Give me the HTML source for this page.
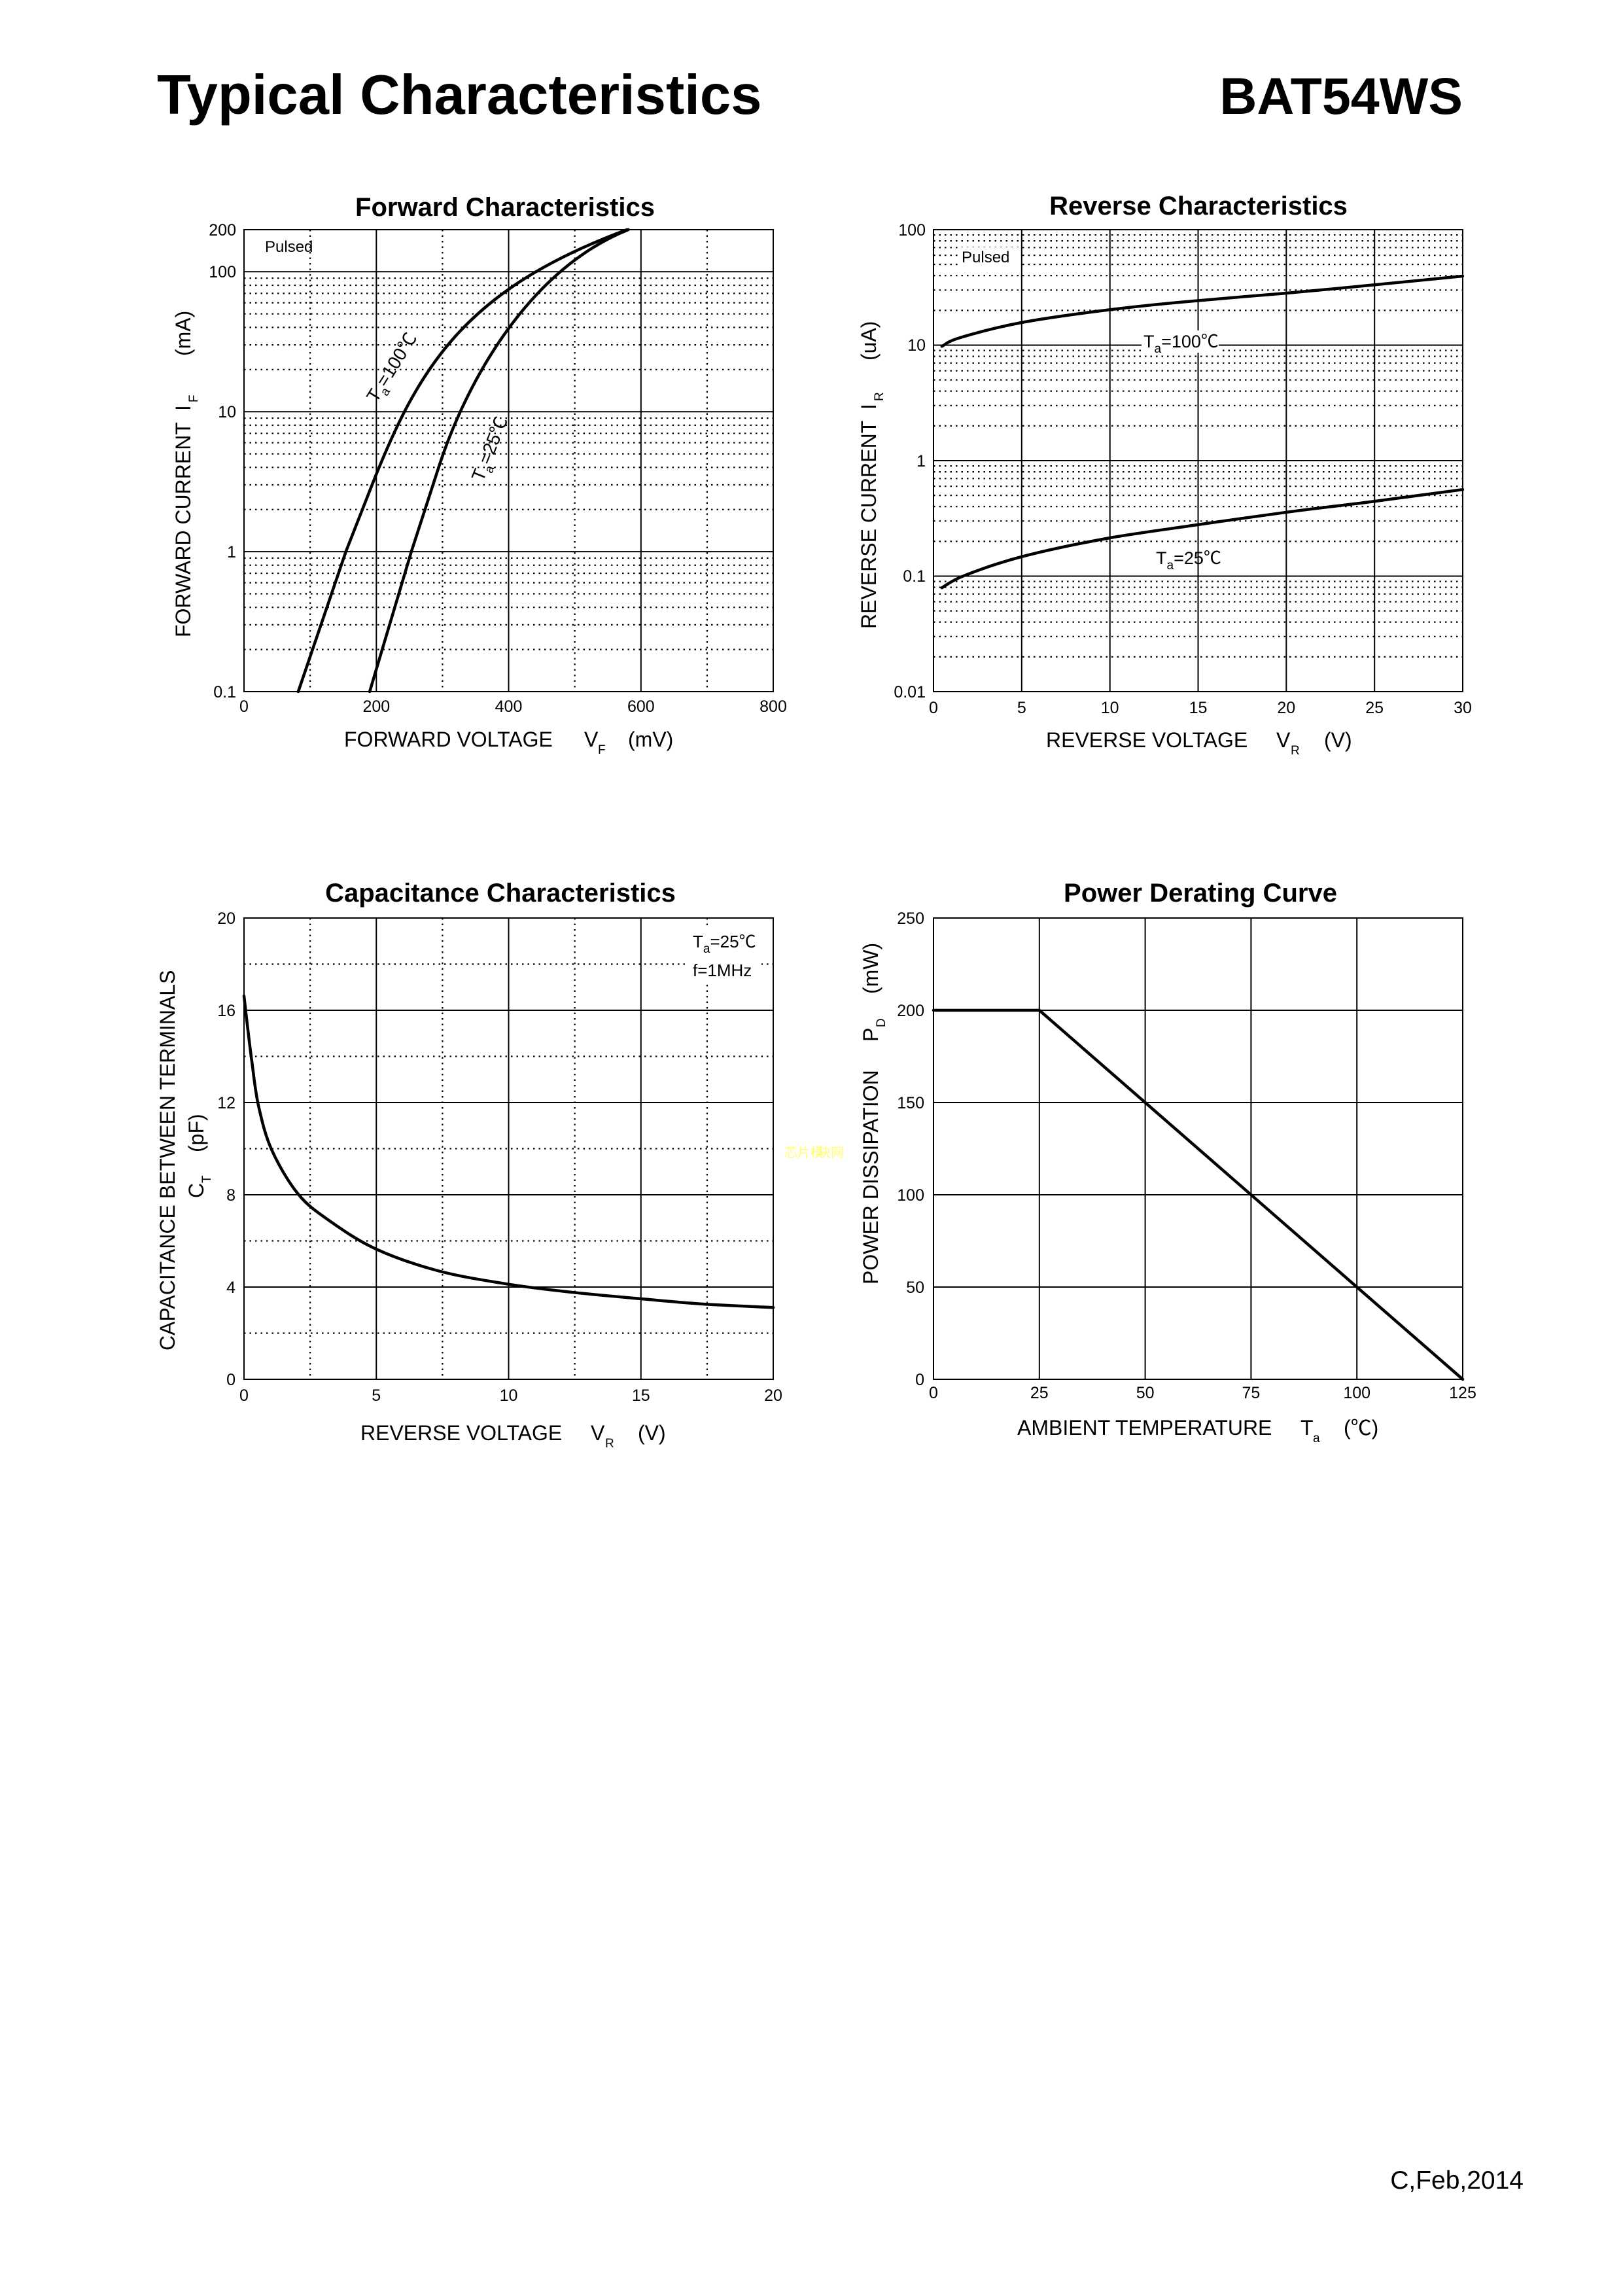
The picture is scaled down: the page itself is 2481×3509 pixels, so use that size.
<!DOCTYPE html>
<html><head><meta charset="utf-8"><style>
html,body{margin:0;padding:0;background:#fff;}
svg{display:block;}
text{font-family:"Liberation Sans","Noto Sans CJK SC",sans-serif;fill:#000;}
.t{font-size:25px;}
.ax{font-size:32px;}
.sb{font-size:19px;}
.ti{font-size:40px;font-weight:bold;}
.g{stroke:#000;stroke-width:2;fill:none;}
.d{stroke:#000;stroke-width:2.2;fill:none;stroke-dasharray:2.5 6;}
.c{stroke:#000;stroke-width:4.5;fill:none;stroke-linejoin:round;stroke-linecap:round;}
</style></head><body>
<svg width="2481" height="3509" viewBox="0 0 2481 3509" xmlns="http://www.w3.org/2000/svg">
<rect width="2481" height="3509" fill="#fff"/>
<text x="240" y="174" style="font-size:85px;font-weight:bold">Typical Characteristics</text>
<text x="2236" y="174" text-anchor="end" style="font-size:79px;font-weight:bold">BAT54WS</text>
<text x="2329" y="3345" text-anchor="end" style="font-size:39px">C,Feb,2014</text>

<!-- ========== FORWARD ========== -->
<text class="ti" x="772" y="330" text-anchor="middle">Forward Characteristics</text>
<path class="d" d="M474.1 351V1057M676.4 351V1057M878.6 351V1057M1080.9 351V1057"/>
<path class="d" d="M373 992.6H1182M373 954.9H1182M373 928.2H1182M373 907.5H1182M373 890.6H1182M373 876.2H1182M373 863.8H1182M373 852.9H1182
M373 778.7H1182M373 741H1182M373 714.3H1182M373 693.6H1182M373 676.7H1182M373 662.3H1182M373 649.9H1182M373 639H1182
M373 564.8H1182M373 527.1H1182M373 500.4H1182M373 479.7H1182M373 462.8H1182M373 448.4H1182M373 436H1182M373 425.1H1182"/>
<path class="g" d="M575.3 351V1057M777.5 351V1057M979.8 351V1057M373 415.3H1182M373 629.2H1182M373 843.1H1182"/>
<rect class="g" x="373" y="351" width="809" height="706"/>
<path class="c" d="M455.9 1057L528.7 843.1L566.2 747.5C639 561.5 708.5 443.5 958.5 351"/>
<path class="c" d="M565.1 1057L628.8 843.1L671.3 712C708.3 597.9 800.5 415 960.5 351"/>
<text x="405" y="385" style="font-size:24px">Pulsed</text>
<g transform="translate(604,552) rotate(-58)"><text x="-70" y="10" style="font-size:28px">T<tspan class="sb" dy="8">a</tspan><tspan dy="-8">=100℃</tspan></text></g>
<g transform="translate(752,676) rotate(-68)"><text x="-62" y="10" style="font-size:28px">T<tspan class="sb" dy="8">a</tspan><tspan dy="-8">=25℃</tspan></text></g>
<g class="t" text-anchor="end">
<text x="361" y="360">200</text><text x="361" y="424">100</text><text x="361" y="638">10</text><text x="361" y="852">1</text><text x="361" y="1066">0.1</text></g>
<g class="t" text-anchor="middle">
<text x="373" y="1088">0</text><text x="575.3" y="1088">200</text><text x="777.5" y="1088">400</text><text x="979.8" y="1088">600</text><text x="1182" y="1088">800</text></g>
<text class="ax" x="526" y="1141">FORWARD VOLTAGE</text><text class="ax" x="893" y="1141">V</text><text class="sb" x="914" y="1152">F</text><text class="ax" x="960" y="1141">(mV)</text>
<g transform="rotate(-90)"><text class="ax" x="-974" y="291">FORWARD CURRENT</text><text class="ax" x="-628" y="291">I</text><text class="sb" x="-615" y="302">F</text><text class="ax" x="-544" y="291">(mA)</text></g>

<!-- ========== REVERSE ========== -->
<text class="ti" x="1832" y="328" text-anchor="middle">Reverse Characteristics</text>
<path class="d" d="M1427 1003.9H2236M1427 972.8H2236M1427 950.7H2236M1427 933.6H2236M1427 919.7H2236M1427 907.8H2236M1427 897.6H2236M1427 888.6H2236
M1427 827.4H2236M1427 796.3H2236M1427 774.2H2236M1427 757.1H2236M1427 743.2H2236M1427 731.3H2236M1427 721.1H2236M1427 712.1H2236
M1427 650.9H2236M1427 619.8H2236M1427 597.7H2236M1427 580.6H2236M1427 566.7H2236M1427 554.8H2236M1427 544.6H2236M1427 535.6H2236
M1427 474.4H2236M1427 443.3H2236M1427 421.2H2236M1427 404.1H2236M1427 390.2H2236M1427 378.3H2236M1427 368.1H2236M1427 359.1H2236"/>
<path class="g" d="M1561.8 351V1057M1696.7 351V1057M1831.5 351V1057M1966.3 351V1057M2101.2 351V1057M1427 527.5H2236M1427 704H2236M1427 880.5H2236"/>
<rect class="g" x="1427" y="351" width="809" height="706"/>
<path class="c" d="M1439.8 529.4C1444.4 527.2 1447.1 522.2 1467.4 516.1C1487.7 510 1523.4 500.1 1561.5 493C1599.6 485.9 1651 479 1696 473.4C1740 468 1790 463 1831.2 459.5C1875 455.5 1925 451.5 1966.9 448C2010 444 2060 439.5 2101.4 435.3C2145 431 2190 426.5 2235.9 422"/>
<path class="c" d="M1439.8 898.3C1445.5 895.2 1453.5 887.7 1473.8 879.8C1494.1 871.9 1524.5 860.5 1561.5 850.9C1598.5 841.3 1651 830.3 1696 822.1C1740 814.5 1790 808 1831.2 801.9C1875 795.5 1925 788.5 1966.9 782.8C2010 777 2060 771.5 2101.4 766.1C2145 760.5 2190 754.5 2235.9 748.2"/>
<rect x="1466" y="378" width="92" height="30" fill="#fff"/>
<text x="1470" y="401" style="font-size:24px">Pulsed</text>
<rect x="1745" y="505" width="118" height="34" fill="#fff"/>
<text x="1748" y="531" style="font-size:27px">T<tspan class="sb" dy="8">a</tspan><tspan dy="-8">=100℃</tspan></text>
<text x="1767" y="862" style="font-size:27px">T<tspan class="sb" dy="8">a</tspan><tspan dy="-8">=25℃</tspan></text>
<g class="t" text-anchor="end">
<text x="1415" y="360">100</text><text x="1415" y="536">10</text><text x="1415" y="713">1</text><text x="1415" y="889">0.1</text><text x="1415" y="1066">0.01</text></g>
<g class="t" text-anchor="middle">
<text x="1427" y="1090">0</text><text x="1561.8" y="1090">5</text><text x="1696.7" y="1090">10</text><text x="1831.5" y="1090">15</text><text x="1966.3" y="1090">20</text><text x="2101.2" y="1090">25</text><text x="2236" y="1090">30</text></g>
<text class="ax" x="1599" y="1142">REVERSE VOLTAGE</text><text class="ax" x="1951" y="1142">V</text><text class="sb" x="1973" y="1153">R</text><text class="ax" x="2024" y="1142">(V)</text>
<g transform="rotate(-90)"><text class="ax" x="-961" y="1339">REVERSE CURRENT</text><text class="ax" x="-626" y="1339">I</text><text class="sb" x="-613" y="1350">R</text><text class="ax" x="-551" y="1339">(uA)</text></g>

<!-- ========== CAPACITANCE ========== -->
<text class="ti" x="765" y="1378" text-anchor="middle">Capacitance Characteristics</text>
<path class="d" d="M474.1 1403V2108M676.4 1403V2108M878.6 1403V2108M1080.9 1403V2108M373 2037.5H1182M373 1896.5H1182M373 1755.5H1182M373 1614.5H1182M373 1473.5H1182"/>
<path class="g" d="M575.25 1403V2108M777.5 1403V2108M979.75 1403V2108M373 1967H1182M373 1826H1182M373 1685H1182M373 1544H1182"/>
<rect class="g" x="373" y="1403" width="809" height="705"/>
<rect x="1052" y="1420" width="112" height="84" fill="#fff"/>
<path class="c" d="M373 1522.1C373.9 1530 376.4 1552.4 378.4 1569.2C380.4 1586 382.3 1602.8 385.1 1623C387.9 1643.2 390.1 1667.8 395.2 1690.2C400.3 1712.6 405.3 1735.1 415.4 1757.5C425.5 1779.9 441.1 1806.9 455.7 1824.8C470.3 1842.7 482.9 1851.1 502.8 1865.1C522.7 1879.1 546.8 1896 574.8 1908.9C602.8 1921.8 637.3 1933.5 671 1942.5C704.7 1951.5 743.6 1957.3 777.2 1962.7C810.8 1968.1 839.1 1971.1 872.7 1974.8C906.3 1978.5 945.4 1981.9 979 1984.9C1012.6 1987.9 1040.6 1990.8 1074.5 1993C1108.4 1995.1 1164.2 1997.4 1182.1 1998.3"/>
<text x="1059" y="1448" style="font-size:26px">T<tspan class="sb" dy="8">a</tspan><tspan dy="-8">=25℃</tspan></text>
<text x="1059" y="1492" style="font-size:26px">f=1MHz</text>
<g class="t" text-anchor="end">
<text x="360" y="1412">20</text><text x="360" y="1553">16</text><text x="360" y="1694">12</text><text x="360" y="1835">8</text><text x="360" y="1976">4</text><text x="360" y="2117">0</text></g>
<g class="t" text-anchor="middle">
<text x="373" y="2141">0</text><text x="575.25" y="2141">5</text><text x="777.5" y="2141">10</text><text x="979.75" y="2141">15</text><text x="1182" y="2141">20</text></g>
<text class="ax" x="551" y="2201">REVERSE VOLTAGE</text><text class="ax" x="903" y="2201">V</text><text class="sb" x="925" y="2212">R</text><text class="ax" x="975" y="2201">(V)</text>
<g transform="rotate(-90)"><text class="ax" x="-2064" y="267">CAPACITANCE BETWEEN TERMINALS</text>
<text class="ax" x="-1831" y="311">C</text><text class="sb" x="-1808" y="322">T</text><text class="ax" x="-1761" y="311">(pF)</text></g>
<text x="1199" y="1768" style="font-size:20px;fill:#ffff70">芯片模</text>

<!-- ========== POWER ========== -->
<text class="ti" x="1835" y="1378" text-anchor="middle">Power Derating Curve</text>
<path class="g" d="M1588.8 1403V2108M1750.6 1403V2108M1912.4 1403V2108M2074.2 1403V2108M1427 1967H2236M1427 1826H2236M1427 1685H2236M1427 1544H2236"/>
<rect class="g" x="1427" y="1403" width="809" height="705"/>
<path class="c" d="M1427 1544L1588.8 1544L2236 2108"/>
<g class="t" text-anchor="end">
<text x="1413" y="1412">250</text><text x="1413" y="1553">200</text><text x="1413" y="1694">150</text><text x="1413" y="1835">100</text><text x="1413" y="1976">50</text><text x="1413" y="2117">0</text></g>
<g class="t" text-anchor="middle">
<text x="1427" y="2137">0</text><text x="1588.8" y="2137">25</text><text x="1750.6" y="2137">50</text><text x="1912.4" y="2137">75</text><text x="2074.2" y="2137">100</text><text x="2236" y="2137">125</text></g>
<text class="ax" x="1555" y="2193">AMBIENT TEMPERATURE</text><text class="ax" x="1988" y="2193">T</text><text class="sb" x="2007" y="2204">a</text><text class="ax" x="2054" y="2193">(℃)</text>
<g transform="rotate(-90)"><text class="ax" x="-1963" y="1342">POWER DISSIPATION</text><text class="ax" x="-1592" y="1342">P</text><text class="sb" x="-1570" y="1353">D</text><text class="ax" x="-1519" y="1342">(mW)</text></g>
<text x="1250" y="1768" style="font-size:20px;fill:#ffff70">块网</text>
</svg>
</body></html>
